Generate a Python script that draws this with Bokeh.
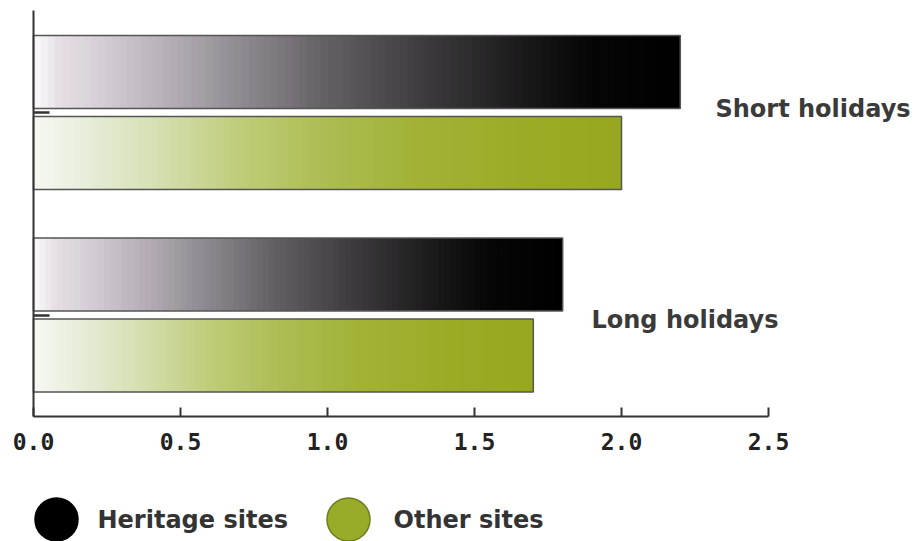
from bokeh.plotting import figure
from bokeh.models import Range1d, LinearAxis, FixedTicker, ColumnDataSource
from bokeh.core.properties import value
from bokeh.embed import file_html
from bokeh.resources import INLINE

# ---- data ----
groups = ["Short holidays", "Long holidays"]
series = ["Heritage sites", "Other sites"]
heritage = [2.2, 1.8]
other = [2.0, 1.7]
x_ticks = [0.0, 0.5, 1.0, 1.5, 2.0, 2.5]
x_tick_labels = ["0.0", "0.5", "1.0", "1.5", "2.0", "2.5"]

# ---- layout ----
W, H = 924, 541
PX_X = 294.0          # pixels per x unit
X0_PX = 33.0          # pixel of x = 0
PX_Y = 202.5          # pixels per group
Y1_PX = 314.5         # pixel (from top) of group position 1
X_START = -X0_PX / PX_X
X_END = X_START + W / PX_X
Y_TOP = 1 + Y1_PX / PX_Y
Y_BOT = 1 - (H - Y1_PX) / PX_Y

def dx(px):  # pixel -> x data
    return X_START + px / PX_X

def dy(py):  # pixel -> y data
    return 1 + (Y1_PX - py) / PX_Y

group_pos = [2, 1]
OFFSET = 0.2
BAR_H = 0.36
AXIS_Y = dy(416)

heritage_stops = [(0.00, (252, 250, 252)), (0.04, (230, 224, 230)), (0.12, (208, 201, 209)),
                  (0.22, (178, 171, 179)), (0.33, (140, 135, 142)), (0.45, (100, 97, 101)),
                  (0.60, (62, 60, 62)), (0.75, (28, 27, 28)), (0.86, (6, 6, 6)), (1.00, (0, 0, 0))]
other_stops = [(0.00, (246, 249, 243)), (0.10, (229, 236, 215)), (0.20, (214, 225, 182)),
               (0.35, (191, 205, 122)), (0.50, (173, 188, 82)), (0.65, (163, 178, 54)),
               (0.80, (157, 172, 40)), (1.00, (152, 167, 32))]


def interp(stops, t):
    for (t0, c0), (t1, c1) in zip(stops[:-1], stops[1:]):
        if t <= t1:
            f = (t - t0) / (t1 - t0) if t1 > t0 else 0
            return "#%02x%02x%02x" % tuple(int(round(a + (b - a) * f)) for a, b in zip(c0, c1))
    return "#%02x%02x%02x" % stops[-1][1]


p = figure(width=W, height=H, output_backend="svg", toolbar_location=None,
           x_range=Range1d(X_START, X_END), y_range=Range1d(Y_BOT, Y_TOP),
           x_axis_location=None, y_axis_location=None, min_border=0,
           outline_line_color=None)
p.grid.visible = False

N = 90
for vals, stops, off in [(heritage, heritage_stops, OFFSET), (other, other_stops, -OFFSET)]:
    left, right, top, bottom, colors = [], [], [], [], []
    for v, g in zip(vals, group_pos):
        step = v / N
        for i in range(N):
            left.append(i * step)
            right.append(min(v, (i + 1.6) * step))
            top.append(g + off + BAR_H / 2)
            bottom.append(g + off - BAR_H / 2)
            colors.append(interp(stops, (i + 0.5) / N))
    p.quad(left=left, right=right, top=top, bottom=bottom, fill_color=colors, line_color=None)
    p.hbar(y=[g + off for g in group_pos], left=0, right=vals, height=BAR_H,
           fill_alpha=0, line_color="#555555", line_width=1.5)

# axes
xaxis = LinearAxis(fixed_location=AXIS_Y, bounds=(0, 2.5), ticker=FixedTicker(ticks=x_ticks),
                   major_label_overrides={t: l for t, l in zip(x_ticks, x_tick_labels)})
xaxis.major_tick_in = 9
xaxis.major_tick_out = 0
xaxis.minor_tick_line_color = None
xaxis.axis_line_color = "#333333"
xaxis.axis_line_width = 2
xaxis.major_tick_line_color = "#333333"
xaxis.major_tick_line_width = 2
xaxis.major_label_standoff = 16
xaxis.major_label_text_font = "DejaVu Sans Mono"
xaxis.major_label_text_font_style = "bold"
xaxis.major_label_text_font_size = "23px"
xaxis.major_label_text_color = "#222222"
p.add_layout(xaxis, "below")

yaxis = LinearAxis(fixed_location=0, bounds=(AXIS_Y, dy(10)), ticker=FixedTicker(ticks=group_pos),
                   major_label_overrides={g: "" for g in group_pos})
yaxis.major_tick_in = 16
yaxis.major_tick_out = 0
yaxis.minor_tick_line_color = None
yaxis.axis_line_color = "#333333"
yaxis.axis_line_width = 2
yaxis.major_tick_line_color = "#333333"
yaxis.major_tick_line_width = 2.5
p.add_layout(yaxis, "left")

# group labels
label_src = ColumnDataSource(dict(x=[dx(715), dx(591)], y=[dy(108), dy(319)], t=groups))
p.text(x="x", y="y", text="t", source=label_src, text_font=value("DejaVu Sans"),
       text_font_style="bold", text_font_size="24px", text_color="#3a3a3a",
       text_baseline="middle", text_align="left")

# legend
leg_y = dy(519)
p.scatter(x=[dx(56), dx(348)], y=[leg_y, leg_y], size=43,
          fill_color=["#000000", "#9aab2a"], line_color=["#000000", "#6f7c1e"], line_width=1.5)
leg_src = ColumnDataSource(dict(x=[dx(97), dx(393)], y=[leg_y, leg_y], t=series))
p.text(x="x", y="y", text="t", source=leg_src, text_font=value("DejaVu Sans"),
       text_font_style="bold", text_font_size="24px", text_color="#333333",
       text_baseline="middle", text_align="left")

open("out.html", "w").write(file_html(p, INLINE))
